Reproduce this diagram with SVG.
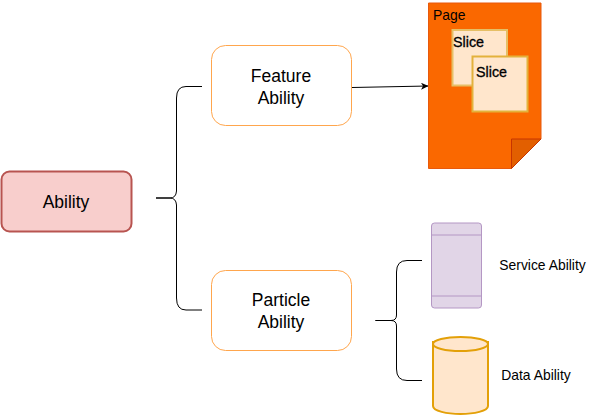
<svg xmlns="http://www.w3.org/2000/svg" width="592" height="416" viewBox="0 0 592 416">
<style>
text{font-family:"Liberation Sans",Arial,sans-serif;fill:#000;text-anchor:middle}
.l{font-size:17.500px}.s{font-size:13.900px}.sl{font-size:13.900px;text-anchor:start}
.sb{font-size:14.300px;text-anchor:start;stroke:#000;stroke-width:.3}
.b{fill:none;stroke:#000;stroke-width:1}
.ab{fill:#fff;stroke:#ffa64d;stroke-width:1}
</style>
<defs><marker id="a" markerWidth="8" markerHeight="8" refX="7" refY="3.5" orient="auto" markerUnits="userSpaceOnUse"><path d="M0 0L7.5 3.5L0 7L2 3.5Z" fill="#000"/></marker></defs>
<rect width="592" height="416" fill="#fff"/>
<g id="connectors">
<path class="b" d="M156 198H170Q176 198 176.500 191V98Q176.500 86.500 186 86.500H202"/>
<path class="b" d="M156 198H170Q176 198 176.500 205V298Q176.500 310 186 310H202"/>
<path class="b" d="M352 87.500L428 86" marker-end="url(#a)"/>
<path class="b" d="M375.500 320.500H391Q396.500 320.500 396.500 315V272Q396.500 260.500 407 260.500H422"/>
<path class="b" d="M375.500 320.500H391Q396.500 320.500 396.500 326V369Q396.500 380.500 407 380.500H422"/>
</g>
<g id="ability"><rect x="1.500" y="171.500" width="130" height="60" rx="8" fill="#f8cecc" stroke="#b85450" stroke-width="2"/><text class="l" x="66" y="208">Ability</text></g>
<g id="feature"><rect class="ab" x="211.500" y="45.500" width="140" height="80" rx="14"/><text class="l" x="281" y="82">Feature</text><text class="l" x="281" y="104">Ability</text></g>
<g id="particle"><rect class="ab" x="211.500" y="270.500" width="140" height="80" rx="14"/><text class="l" x="281" y="306">Particle</text><text class="l" x="281" y="328">Ability</text></g>
<g id="page"><path d="M428.500 3H541V139L511.500 168.500H428.500Z" fill="#fa6800" stroke="#e8590c" stroke-width="1"/><path d="M511.500 168.500V139H541Z" fill="#e25f00" stroke="#c73500" stroke-width="1"/><text class="sl" x="433" y="20">Page</text></g>
<g id="slice1"><rect x="452.500" y="30" width="54.500" height="55.500" fill="#ffe6cc" stroke="#e6bf66" stroke-width="2"/><text class="sb" x="453" y="47">Slice</text></g>
<g id="slice2"><rect x="472.500" y="56.500" width="55" height="55" fill="#ffe6cc" stroke="#e3b23c" stroke-width="2"/><text class="sb" x="476" y="77">Slice</text></g>
<g id="service"><rect x="431.500" y="223" width="50" height="85" rx="3" fill="#e1d5e7" stroke="#b497c4" stroke-width="1"/><path d="M431.500 235H481.500M431.500 296H481.500" stroke="#b497c4" fill="none"/></g>
<text class="s" x="542.500" y="270">Service Ability</text>
<g id="data"><path d="M433 342V406C433 411 447 414 460.500 414S488 411 488 406V342Z" fill="#ffe6cc" stroke="#e3a008" stroke-width="2"/><ellipse cx="460.500" cy="344" rx="27.500" ry="7" fill="#ffe6cc" stroke="#e3a008" stroke-width="2"/></g>
<text class="s" x="536" y="380">Data Ability</text>
</svg>
